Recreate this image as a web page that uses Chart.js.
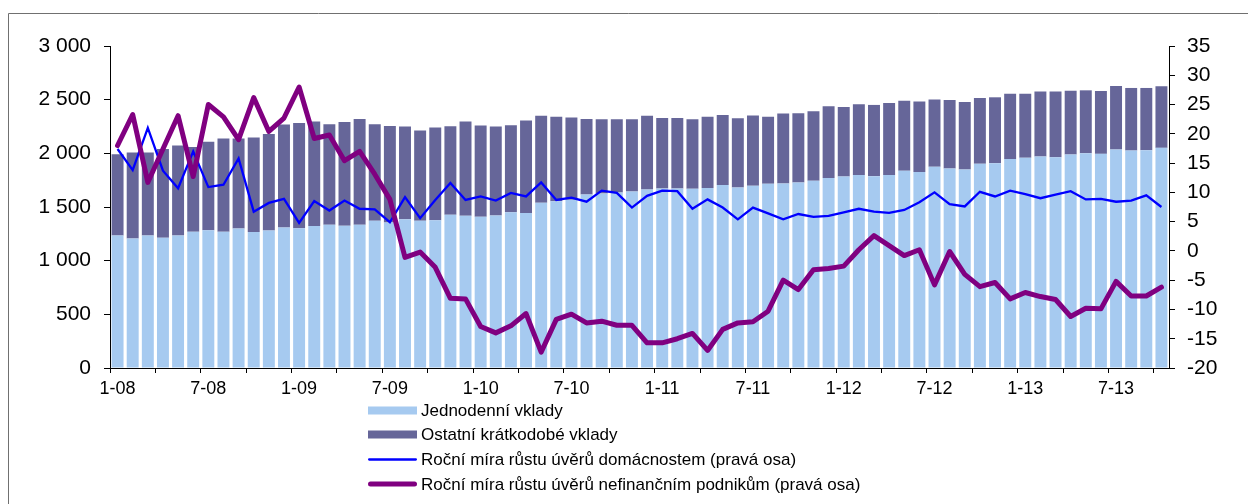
<!DOCTYPE html>
<html><head><meta charset="utf-8">
<script src="https://cdn.jsdelivr.net/npm/chart.js@4.4.0/dist/chart.umd.min.js"></script>
<style>html,body{margin:0;padding:0;background:#fff;} canvas{display:block;}</style>
</head><body>
<canvas id="c" width="1248" height="504"></canvas>
<script>
const categories = [
 "1-08","2-08","3-08","4-08","5-08","6-08","7-08","8-08","9-08","10-08","11-08","12-08",
 "1-09","2-09","3-09","4-09","5-09","6-09","7-09","8-09","9-09","10-09","11-09","12-09",
 "1-10","2-10","3-10","4-10","5-10","6-10","7-10","8-10","9-10","10-10","11-10","12-10",
 "1-11","2-11","3-11","4-11","5-11","6-11","7-11","8-11","9-11","10-11","11-11","12-11",
 "1-12","2-12","3-12","4-12","5-12","6-12","7-12","8-12","9-12","10-12","11-12","12-12",
 "1-13","2-13","3-13","4-13","5-13","6-13","7-13","8-13","9-13","10-13"
];
const overnightDeposits = [
 1235,1207,1235,1213,1235,1269,1284,1269,1300,1266,1281,1309,
 1303,1322,1334,1325,1334,1371,1356,1386,1373,1377,1427,1418,
 1408,1421,1452,1443,1539,1554,1567,1616,1626,1635,1644,1663,
 1672,1672,1669,1678,1706,1682,1697,1716,1719,1728,1744,1771,
 1784,1799,1787,1799,1837,1827,1874,1858,1849,1902,1908,1948,
 1958,1970,1964,1989,2001,1995,2035,2026,2029,2051
];
const otherShortTermDeposits = [
 757,800,772,828,837,791,823,869,838,881,900,959,
 980,974,937,968,987,900,899,863,839,863,825,878,
 851,828,810,862,810,788,766,705,692,683,674,686,
 658,658,649,664,652,645,655,626,651,645,648,668,
 648,658,664,671,654,655,627,639,630,614,614,608,
 598,605,611,595,586,586,593,583,580,574
];
const householdLoanGrowth = [
 17.4,13.8,21.0,13.7,10.7,17.0,10.9,11.3,15.8,6.7,8.2,8.9,
 4.8,8.5,6.9,8.6,7.2,7.1,4.9,9.2,5.6,8.7,11.6,8.7,
 9.3,8.6,9.9,9.3,11.7,8.7,9.1,8.4,10.3,9.9,7.4,9.4,
 10.3,10.2,7.2,8.8,7.4,5.4,7.4,6.4,5.4,6.3,5.8,6.0,
 6.6,7.2,6.7,6.5,7.0,8.3,10.0,8.0,7.6,10.1,9.3,10.3,
 9.7,9.0,9.6,10.2,8.8,8.9,8.4,8.6,9.5,7.5
];
const corporateLoanGrowth = [
 18.0,23.3,11.7,17.4,23.1,12.7,25.0,22.9,19.0,26.2,20.4,22.7,
 28.0,19.2,19.8,15.4,17.0,13.1,8.8,-1.1,-0.2,-2.8,-8.1,-8.2,
 -12.9,-14.0,-12.8,-10.7,-17.3,-11.7,-10.8,-12.3,-12.0,-12.7,-12.7,-15.7,
 -15.7,-15.0,-14.1,-17.0,-13.4,-12.3,-12.1,-10.3,-5.0,-6.6,-3.2,-3.0,
 -2.6,0.2,2.6,0.9,-0.8,0.2,-5.8,-0.1,-4.0,-6.1,-5.4,-8.2,
 -7.1,-7.8,-8.3,-11.2,-9.8,-9.9,-5.2,-7.7,-7.7,-6.2
];
const seriesNames = [
 "Jednodenní vklady",
 "Ostatní krátkodobé vklady",
 "Roční míra růstu úvěrů domácnostem (pravá osa)",
 "Roční míra růstu úvěrů nefinančním podnikům (pravá osa)"
];
const leftAxis = {min: 0, max: 3000, step: 500};
const rightAxis = {min: -20, max: 35, step: 5};

const FONT = "'Liberation Sans', Arial, sans-serif";

const frame = {
  id: 'frame',
  beforeDraw(chart) {
    const ctx = chart.ctx;
    ctx.save();
    ctx.fillStyle = '#fff';
    ctx.fillRect(0, 0, chart.width, chart.height);
    ctx.strokeStyle = '#707070';
    ctx.lineWidth = 1;
    ctx.beginPath();
    ctx.moveTo(8.5, chart.height);
    ctx.lineTo(8.5, 13.5);
    ctx.lineTo(chart.width, 13.5);
    ctx.stroke();
    ctx.restore();
  }
};

const customLegend = {
  id: 'customLegend',
  afterDraw(chart) {
    const ctx = chart.ctx;
    ctx.save();
    const x0 = 368, x1 = 417, tx = 421;
    const rows = [410.5, 434.5, 459.5, 484];
    chart.data.datasets.forEach((ds, i) => {
      const y = rows[i];
      if (ds.type === 'bar') {
        ctx.fillStyle = ds.backgroundColor;
        ctx.fillRect(x0, y - 4, x1 - x0, 8);
      } else {
        ctx.strokeStyle = ds.borderColor;
        ctx.lineWidth = ds.borderWidth;
        ctx.lineCap = 'round';
        ctx.beginPath();
        ctx.moveTo(x0 + ds.borderWidth / 2, y);
        ctx.lineTo(x1 - ds.borderWidth / 2, y);
        ctx.stroke();
      }
      ctx.fillStyle = '#000';
      ctx.font = '17px ' + FONT;
      ctx.textBaseline = 'middle';
      ctx.textAlign = 'left';
      ctx.fillText(ds.label, tx, y + 1);
    });
    ctx.restore();
  }
};

new Chart(document.getElementById('c'), {
  data: {
    labels: categories,
    datasets: [
      {type: 'bar', label: seriesNames[0], data: overnightDeposits, backgroundColor: '#A6CAF0',
       yAxisID: 'y', stack: 's', order: 3, barPercentage: 0.79, categoryPercentage: 1.0},
      {type: 'bar', label: seriesNames[1], data: otherShortTermDeposits, backgroundColor: '#666699',
       yAxisID: 'y', stack: 's', order: 3, barPercentage: 0.79, categoryPercentage: 1.0},
      {type: 'line', label: seriesNames[2], data: householdLoanGrowth, borderColor: '#0000FF',
       borderWidth: 2.3, pointRadius: 0, tension: 0, yAxisID: 'y1', order: 2},
      {type: 'line', label: seriesNames[3], data: corporateLoanGrowth, borderColor: '#800080',
       borderWidth: 5, pointRadius: 0, tension: 0, yAxisID: 'y1', order: 1,
       borderJoinStyle: 'round', borderCapStyle: 'round'}
    ]
  },
  options: {
    responsive: false,
    devicePixelRatio: 1,
    animation: false,
    layout: {padding: {left: 0, right: 0, top: 46, bottom: 106}},
    plugins: {legend: {display: false}, tooltip: {enabled: false}},
    scales: {
      x: {
        stacked: true,
        offset: true,
        grid: {offset: true, drawOnChartArea: false, drawTicks: true, tickLength: 5,
               tickColor: (c) => (c.index !== undefined && c.index % 3 === 0) ? '#000' : 'rgba(0,0,0,0)'},
        border: {display: true, color: '#000', width: 1},
        ticks: {autoSkip: false, maxRotation: 0, minRotation: 0, padding: 5, color: '#000',
                font: {family: FONT, size: 18},
                callback: (v, i) => (i % 6 === 0 ? categories[i] : '')},
        afterFit: (s) => { s.height = 30; }
      },
      y: {
        position: 'left',
        stacked: true,
        min: leftAxis.min, max: leftAxis.max,
        grid: {drawOnChartArea: false, tickLength: 6, tickColor: '#000'},
        border: {display: true, color: '#000', width: 1},
        ticks: {stepSize: leftAxis.step, padding: 13, color: '#000', font: {family: FONT, size: 21},
                callback: (v) => String(v).replace(/\B(?=(\d{3})+(?!\d))/g, ' ')},
        afterFit: (s) => { s.width = 110; }
      },
      y1: {
        position: 'right',
        stacked: false,
        min: rightAxis.min, max: rightAxis.max,
        grid: {drawOnChartArea: false, tickLength: 6, tickColor: '#000'},
        border: {display: true, color: '#000', width: 1},
        ticks: {stepSize: rightAxis.step, padding: 12, color: '#000', font: {family: FONT, size: 21}},
        afterFit: (s) => { s.width = 79; }
      }
    }
  },
  plugins: [frame, customLegend]
});
</script>
</body></html>
